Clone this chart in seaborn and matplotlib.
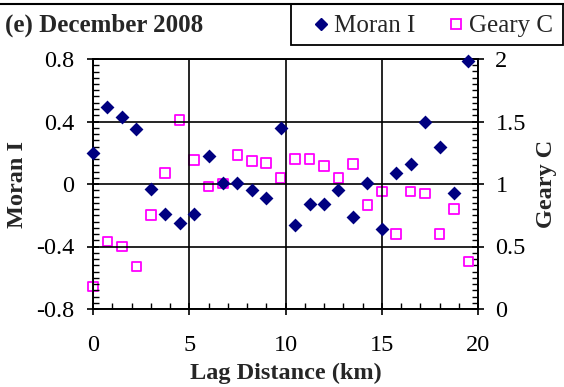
import numpy as np
import pandas as pd
import matplotlib
matplotlib.use("Agg")
import matplotlib.pyplot as plt
import seaborn as sns
from matplotlib.lines import Line2D
from matplotlib.patches import Rectangle
from matplotlib.ticker import MultipleLocator
from matplotlib import font_manager

lag_km = [0, 0.75, 1.5, 2.25, 3.0, 3.75, 4.5, 5.25, 6.0, 6.75, 7.5, 8.25, 9.0, 9.75,
          10.5, 11.25, 12.0, 12.75, 13.5, 14.25, 15.0, 15.75, 16.5, 17.25, 18.0, 18.75, 19.5]
moran_i = [0.20, 0.49, 0.43, 0.35, -0.03, -0.19, -0.25, -0.19, 0.18, 0.005, 0.005, -0.04, -0.09, 0.36,
           -0.26, -0.125, -0.125, -0.04, -0.21, 0.005, -0.29, 0.07, 0.13, 0.40, 0.24, -0.06, 0.785]
geary_c = [0.18, 0.54, 0.50, 0.34, 0.75, 1.09, 1.51, 1.19, 0.98, 1.005, 1.23, 1.185, 1.17, 1.05,
           1.20, 1.20, 1.145, 1.05, 1.16, 0.83, 0.94, 0.60, 0.94, 0.925, 0.60, 0.80, 0.38]

title_text = "(e) December 2008"
series_names = ["Moran I", "Geary C"]
x_label = "Lag Distance (km)"

df = pd.DataFrame({"lag": lag_km, "moran": moran_i, "geary": geary_c})

sns.set_theme(style="ticks")
available = set(f.name for f in font_manager.fontManager.ttflist)
serif_pref = [f for f in ["Liberation Serif", "Tinos", "FreeSerif", "STIXGeneral", "Nimbus Roman"]
              if f in available]
plt.rcParams["font.family"] = serif_pref + ["DejaVu Serif"]

W, H = 564, 387
fig = plt.figure(figsize=(W / 100, H / 100), dpi=100)
ax = fig.add_axes([93 / W, 1 - 309 / H, (478 - 93) / W, (309 - 59) / H])
ax2 = ax.twinx()

navy = "#000080"
magenta = "#FF00FF"

sns.scatterplot(data=df, x="lag", y="moran", ax=ax, marker="D", s=50, color=navy,
                edgecolor=navy, linewidth=0, zorder=5, clip_on=False, legend=False)
sns.scatterplot(data=df, x="lag", y="geary", ax=ax2, marker="s", s=48, facecolor="none",
                edgecolor=magenta, linewidth=1.3, zorder=5, clip_on=False, legend=False)

ax.set_xlim(0, 20)
ax.set_ylim(-0.8, 0.8)
ax2.set_ylim(0, 2)
ax.set_xticks([0, 5, 10, 15, 20])
ax.set_yticks([-0.8, -0.4, 0, 0.4, 0.8])
ax.set_yticklabels(["-0.8", "-0.4", "0", "0.4", "0.8"])
ax2.set_yticks([0, 0.5, 1, 1.5, 2])
ax2.set_yticklabels(["0", "0.5", "1", "1.5", "2"])
ax.xaxis.set_minor_locator(MultipleLocator(1))
ax.yaxis.set_minor_locator(MultipleLocator(0.04))
ax2.yaxis.set_minor_locator(MultipleLocator(0.05))

ax.grid(True, which="major", color="black", linewidth=1.2)
ax.set_axisbelow(True)
for a in (ax, ax2):
    for sp in a.spines.values():
        sp.set_visible(True)
        sp.set_color("black")
        sp.set_linewidth(1.2)
ax.set_zorder(ax2.get_zorder() + 1)
ax.patch.set_visible(False)

tick_fs = 17.5
ax.tick_params(axis="both", which="major", direction="inout", length=9, width=1.2,
               labelsize=tick_fs, colors="black")
ax.tick_params(axis="x", which="major", pad=14, bottom=True, top=False)
ax.tick_params(axis="y", which="major", pad=9, left=True, right=False)
ax.tick_params(axis="both", which="minor", direction="in", length=4, width=1.0, colors="black")
ax.tick_params(axis="x", which="minor", bottom=True, top=False)
ax.tick_params(axis="y", which="minor", left=True, right=False)
ax2.tick_params(axis="y", which="major", direction="inout", length=9, width=1.2,
                labelsize=tick_fs, pad=8, colors="black", right=True)
ax2.tick_params(axis="y", which="minor", direction="in", length=4, width=1.0, colors="black",
                right=True)

ax.set_xlabel(x_label, fontsize=17.5, fontweight="bold")
ax.set_ylabel(series_names[0], fontsize=17.5, fontweight="bold")
ax2.set_ylabel(series_names[1], fontsize=17.5, fontweight="bold")
ax.xaxis.set_label_coords((286 - 93) / 385, (309 - 373) / 250)
ax.xaxis.label.set_va("center")
ax.yaxis.set_label_coords((17 - 93) / 385, 0.5)
ax.yaxis.label.set_va("center")
ax.yaxis.label.set_ha("center")
ax2.yaxis.set_label_coords((547 - 93) / 385, 0.5)
ax2.yaxis.label.set_va("center")
ax2.yaxis.label.set_ha("center")

# title and top border
fig.text(5 / W, 1 - 25 / H, title_text, fontsize=18, fontweight="bold", ha="left", va="center")
fig.add_artist(Line2D([0, 1], [1 - 4 / H, 1 - 4 / H], transform=fig.transFigure,
                      color="black", linewidth=1.5))
fig.add_artist(Rectangle((291 / W, 1 - 45 / H), (W - 1 - 291) / W, 41 / H,
                         transform=fig.transFigure, fill=False, edgecolor="black", linewidth=1.3))

handles = [Line2D([], [], marker="D", linestyle="none", color=navy, markersize=6),
           Line2D([], [], marker="s", linestyle="none", markerfacecolor="none",
                  markeredgecolor=magenta, markeredgewidth=1.3, markersize=7)]
fig.legend(handles, series_names, loc="center", bbox_to_anchor=(432 / W, 1 - 26 / H),
           ncol=2, frameon=False, fontsize=18, handletextpad=0.15, columnspacing=1.2,
           handlelength=0.8, borderaxespad=0, borderpad=0)

fig.savefig("out.png", dpi=100)
